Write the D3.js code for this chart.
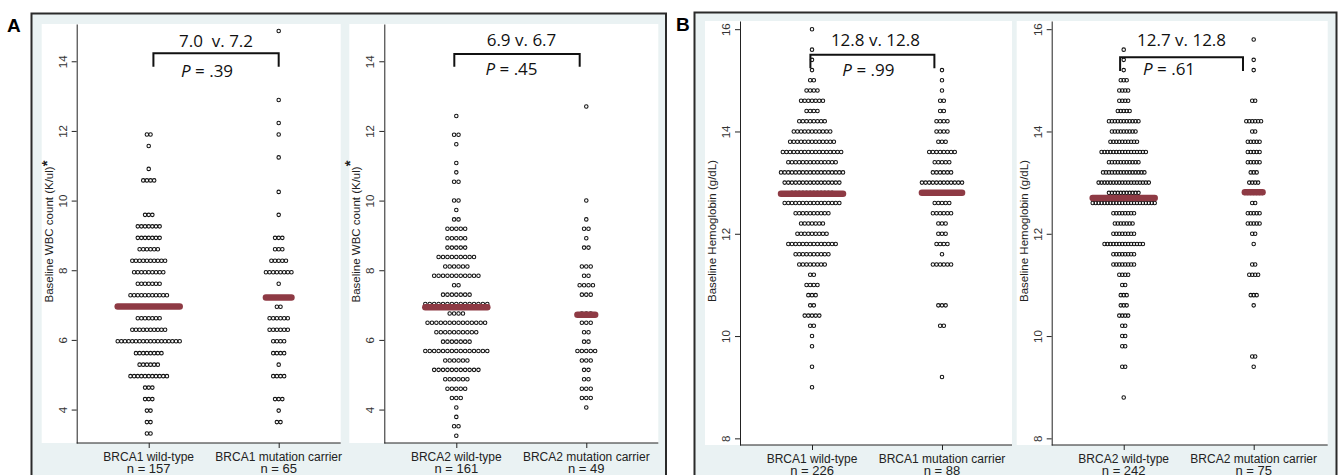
<!DOCTYPE html>
<html>
<head>
<meta charset="utf-8">
<script src="https://cdn.jsdelivr.net/npm/d3@7"></script>
<style>
body { margin: 0; background: #fff; }
svg { display: block; font-family: 'Liberation Sans', Arial, sans-serif; }
</style>
</head>
<body>
<svg id="chart" width="1339" height="475"></svg>
<script>
// rows are [value, number of patients in that dot row]
const wbcBrca1Wild = [[3.31,2],[3.64,2],[3.97,2],[4.30,3],[4.63,3],[4.96,11],[5.29,6],[5.62,8],[5.96,18],[6.29,10],[6.62,7],[6.95,17],[7.28,11],[7.61,7],[7.94,9],[8.27,10],[8.60,6],[8.93,7],[9.26,7],[9.59,3],[10.58,4],[10.91,1],[11.57,1],[11.90,2]]
const wbcBrca1Carrier = [[3.64,2],[3.97,1],[4.30,3],[4.96,4],[5.29,1],[5.62,4],[5.96,4],[6.29,6],[6.62,6],[6.95,2],[7.22,5],[7.61,1],[7.94,8],[8.27,5],[8.60,3],[8.93,3],[9.59,1],[10.25,1],[11.24,1],[11.90,1],[12.23,1],[12.89,1],[14.87,1]]
const wbcBrca2Wild = [[3.25,1],[3.52,2],[3.79,1],[4.06,1],[4.33,3],[4.60,5],[4.87,6],[5.14,11],[5.41,6],[5.68,15],[5.95,7],[6.22,10],[6.49,14],[6.76,4],[7.03,15],[7.30,7],[7.57,2],[7.84,11],[8.11,6],[8.38,9],[8.65,5],[8.92,5],[9.19,5],[9.46,2],[9.73,1],[10.00,2],[10.54,2],[10.81,1],[11.08,1],[11.62,1],[11.89,2],[12.43,1]]
const wbcBrca2Carrier = [[4.06,1],[4.33,3],[4.60,3],[4.87,2],[5.14,2],[5.41,3],[5.68,5],[5.95,2],[6.22,2],[6.49,3],[6.76,3],[7.30,3],[7.57,4],[7.84,2],[8.11,3],[8.65,2],[8.92,1],[9.19,2],[9.46,1],[10.00,1],[12.70,1]]
const hgbBrca1Wild = [[9.0,1],[9.4,1],[9.8,1],[10.0,1],[10.2,2],[10.4,5],[10.6,2],[10.8,3],[11.0,4],[11.2,2],[11.4,8],[11.6,10],[11.8,14],[12.0,9],[12.2,7],[12.4,10],[12.6,16],[12.8,12],[13.0,16],[13.2,18],[13.4,14],[13.6,17],[13.8,13],[14.0,11],[14.2,8],[14.4,4],[14.6,7],[14.8,4],[15.0,2],[15.2,1],[15.4,1],[15.6,1],[16.0,1]]
const hgbBrca1Carrier = [[9.2,1],[10.2,2],[10.6,3],[11.4,6],[11.6,1],[11.8,4],[12.0,3],[12.2,3],[12.4,6],[12.6,5],[12.8,5],[13.0,12],[13.2,6],[13.4,5],[13.6,8],[13.8,3],[14.0,4],[14.2,4],[14.4,2],[14.6,2],[14.8,1],[15.0,1],[15.2,1]]
const hgbBrca2Wild = [[8.8,1],[9.4,2],[9.8,2],[10.0,2],[10.2,2],[10.4,4],[10.6,3],[10.8,3],[11.0,2],[11.2,4],[11.4,8],[11.6,8],[11.8,14],[12.0,8],[12.2,7],[12.4,8],[12.6,22],[12.7,21],[12.8,11],[13.0,18],[13.2,15],[13.4,11],[13.6,16],[13.8,10],[14.0,9],[14.2,11],[14.4,5],[14.6,4],[14.8,4],[15.0,3],[15.2,1],[15.4,1],[15.6,1]]
const hgbBrca2Carrier = [[9.4,1],[9.6,2],[10.6,1],[10.8,3],[11.2,4],[11.4,2],[11.8,1],[12.0,2],[12.2,5],[12.4,5],[12.6,2],[12.8,7],[13.0,4],[13.2,3],[13.4,5],[13.6,5],[13.8,5],[14.0,2],[14.2,6],[14.6,2],[15.2,1],[15.4,1],[15.8,1]]

const wbcMedians1 = [6.96, 7.22]
const wbcMedians2 = [6.94, 6.72]
const hgbMedians1 = [12.78, 12.8]
const hgbMedians2 = [12.7, 12.81]

const cats1 = ['BRCA1 wild-type', 'BRCA1 mutation carrier']
const cats2 = ['BRCA2 wild-type', 'BRCA2 mutation carrier']
const nWbc1 = [157, 65]
const nWbc2 = [161, 49]
const nHgb1 = [226, 88]
const nHgb2 = [242, 75]

const compare = ['7.0\u00a0 v. 7.2', '6.9 v. 6.7', '12.8 v. 12.8', '12.7 v. 12.8']
const pValues = ['.39', '.45', '.99', '.61']

const wbcTicks = [4, 6, 8, 10, 12, 14]
const hgbTicks = [8, 10, 12, 14, 16]
const wbcTitle = 'Baseline WBC count (K/ul)'
const hgbTitle = 'Baseline Hemoglobin (g/dL)'

const svg = d3.select('#chart')
const bgColor = '#eaf2f3'
const medianColor = '#8e3a44'
const ink = '#222'
const plotWidth = 274
const dotSpan = 62

const frames = [
	{x: 31.5, y: 13.5, w: 634.5, label: 'A', lx: 7, ly: 32},
	{x: 694.5, y: 12.5, w: 642, label: 'B', lx: 676, ly: 31}
]

svg.selectAll('rect.frame')
	.data(frames)
	.enter()
	.append('rect')
		.attr('class', 'frame')
		.attr('x', d => d.x)
		.attr('y', d => d.y)
		.attr('width', d => d.w)
		.attr('height', 500)
		.attr('fill', bgColor)
		.style('stroke', '#2a2a2a')
		.style('stroke-width', 2)

svg.selectAll('text.panel')
	.data(frames)
	.enter()
	.append('text')
		.attr('class', 'panel')
		.attr('x', d => d.lx)
		.attr('y', d => d.ly)
		.text(d => d.label)
		.style('font-size', '19px')
		.style('font-weight', 'bold')

const plots = [
	{axisX: 76.7, top: 24, bottom: 443, domain: [3.04, 15.07], ticks: wbcTicks, cats: cats1, ns: nWbc1,
		rows: [wbcBrca1Wild, wbcBrca1Carrier], medians: wbcMedians1, title: wbcTitle, starDy: -1, wRight: 264,
		note: {i: 0, bl: 4.7, br: 0, by: 53.3, bd: 66.7, tx: 0, ty: 46.7, px: -9, py: 76.7}},
	{axisX: 384.3, top: 24, bottom: 443, domain: [3.04, 15.07], ticks: wbcTicks, cats: cats2, ns: nWbc2,
		rows: [wbcBrca2Wild, wbcBrca2Carrier], medians: wbcMedians2, title: wbcTitle, starDy: -5, wRight: 274,
		note: {i: 1, bl: -2, br: -6.6, by: 54, bd: 66.7, tx: 4.5, ty: 46.3, px: -5.5, py: 75}},
	{axisX: 740, top: 21, bottom: 445, domain: [7.87, 16.16], ticks: hgbTicks, cats: cats1, ns: nHgb1,
		rows: [hgbBrca1Wild, hgbBrca1Carrier], medians: hgbMedians1, title: hgbTitle, starDy: null, wRight: 272,
		note: {i: 2, bl: -1.6, br: -7.6, by: 54.7, bd: 68.3, tx: 3, ty: 46, px: -4, py: 76}},
	{axisX: 1051.7, top: 21, bottom: 445, domain: [7.87, 16.16], ticks: hgbTicks, cats: cats2, ns: nHgb2,
		rows: [hgbBrca2Wild, hgbBrca2Carrier], medians: hgbMedians2, title: hgbTitle, starDy: null, wRight: 276,
		note: {i: 3, bl: -3.6, br: -10.7, by: 57.3, bd: 71, tx: 0, ty: 46, px: -12.5, py: 75.3}}
]

const drawPlot = p => {
	const g = svg.append('g')

	const xScale = d3.scalePoint()
		.domain(p.cats)
		.range([p.axisX, p.axisX + plotWidth])
		.padding(0.554)

	const yScale = d3.scaleLinear()
		.domain(p.domain)
		.range([p.bottom, p.top])

	const maxCount = d3.max(p.rows, r => d3.max(r, d => d[1]))
	const dotX = d3.scaleLinear()
		.domain([0, maxCount - 1])
		.range([0, dotSpan])

	g.append('rect')
		.attr('x', p.axisX - 35)
		.attr('y', p.top)
		.attr('width', p.wRight + 35)
		.attr('height', p.bottom - p.top)
		.attr('fill', '#fff')

	// y axis
	const yAxis = g.append('g')
		.attr('transform', `translate(${p.axisX}, 0)`)
		.call(d3.axisLeft(yScale).tickValues(p.ticks).tickSize(5).tickSizeOuter(0))
	yAxis.selectAll('text')
		.attr('x', null)
		.attr('dy', null)
		.attr('transform', 'translate(-10, 0) rotate(-90)')
		.style('text-anchor', 'middle')
		.style('font-size', '11.5px')
		.style('font-family', 'Liberation Sans, Arial, sans-serif')
		.attr('fill', '#333')

	// x axis
	const xAxis = g.append('g')
		.attr('transform', `translate(0, ${p.bottom})`)
		.call(d3.axisBottom(xScale).tickSize(5).tickSizeOuter(0))
	xAxis.selectAll('.tick text').remove()
	xAxis.select('path.domain')
		.attr('d', `M${p.axisX},0H${p.axisX + p.wRight}`)

	g.selectAll('.domain, .tick line')
		.style('stroke', ink)
		.style('stroke-width', 1)

	const labels = g.selectAll('text.cat')
		.data(p.cats)
		.enter()
		.append('text')
			.attr('class', 'cat')
			.attr('text-anchor', 'middle')
			.attr('fill', ink)
	labels.append('tspan')
		.attr('x', d => xScale(d))
		.attr('y', p.bottom + 18)
		.style('font-size', '12px')
		.text(d => d)
	labels.append('tspan')
		.attr('x', d => xScale(d))
		.attr('y', p.bottom + 30)
		.style('font-size', '13px')
		.text((d, i) => 'n = ' + p.ns[i])

	// y title
	const title = g.append('text')
		.attr('transform', `translate(${p.axisX - 24}, ${(p.top + p.bottom) / 2 - 2}) rotate(-90)`)
		.attr('text-anchor', 'middle')
		.attr('fill', ink)
		.style('font-size', '11.5px')
	title.append('tspan').text(p.title)
	if (p.starDy !== null) {
		title.append('tspan')
			.attr('dy', p.starDy)
			.style('font-size', '15px')
			.style('font-weight', 'bold')
			.text('*')
	}

	// dots
	const dots = []
	p.rows.forEach((rows, gi) => {
		rows.forEach(([v, n]) => {
			for (let k = 0; k < n; k++) {
				dots.push({cx: xScale(p.cats[gi]) + dotX(k) - dotX(n - 1) / 2, cy: yScale(v)})
			}
		})
	})

	g.selectAll('circle.dot')
		.data(dots)
		.enter()
		.append('circle')
			.attr('class', 'dot')
			.attr('cx', d => d.cx)
			.attr('cy', d => d.cy)
			.attr('r', 1.75)
			.attr('fill', 'none')
			.style('stroke', '#111')
			.style('stroke-width', 1.05)

	// median bars
	g.selectAll('line.median')
		.data(p.medians)
		.enter()
		.append('line')
			.attr('class', 'median')
			.attr('x1', (d, i) => xScale(p.cats[i]) - dotX(d3.max(p.rows[i], r => r[1]) - 1) / 2)
			.attr('x2', (d, i) => xScale(p.cats[i]) + dotX(d3.max(p.rows[i], r => r[1]) - 1) / 2)
			.attr('y1', d => yScale(d))
			.attr('y2', d => yScale(d))
			.style('stroke', medianColor)
			.style('stroke-width', 6.5)
			.style('stroke-linecap', 'round')

	// comparison bracket
	const nt = p.note
	const bx1 = xScale(p.cats[0]) + nt.bl
	const bx2 = xScale(p.cats[1]) + nt.br
	const bc = (bx1 + bx2) / 2
	g.append('path')
		.attr('d', `M${bx1},${nt.bd}V${nt.by}H${bx2}V${nt.bd}`)
		.attr('fill', 'none')
		.style('stroke', '#111')
		.style('stroke-width', 2)

	g.append('text')
		.attr('x', bc + nt.tx)
		.attr('y', nt.ty)
		.attr('text-anchor', 'middle')
		.style('font-family', 'Open Sans, sans-serif')
		.style('font-size', '17px')
		.attr('fill', '#111')
		.text(compare[nt.i])

	const pText = g.append('text')
		.attr('x', bc + nt.px)
		.attr('y', nt.py)
		.attr('text-anchor', 'middle')
		.style('font-family', 'Open Sans, sans-serif')
		.style('font-size', '17px')
		.attr('fill', '#111')
	pText.append('tspan').style('font-style', 'italic').text('P')
	pText.append('tspan').text(' = ' + pValues[nt.i])
}

plots.forEach(drawPlot)
</script>
</body>
</html>
